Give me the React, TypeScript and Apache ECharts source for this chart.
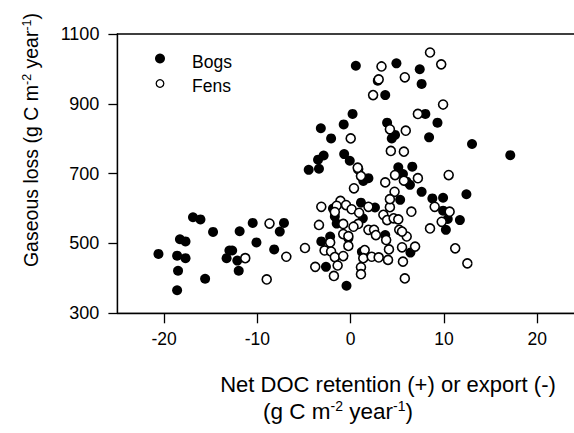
import React, { useEffect, useRef } from "react";
import * as echarts from "echarts";

const xTicks = [-20, -10, 0, 10, 20];
const yTicks = [300, 500, 700, 900, 1100];

const bogs: [number, number][] = [
  [-20.6, 470], [-18.6, 465], [-18.5, 422], [-18.6, 366], [-18.3, 512], [-17.7, 506],
  [-17.7, 458], [-16.9, 575], [-16.1, 569], [-15.6, 399], [-14.75, 533], [-13.3, 458],
  [-13.0, 480], [-12.7, 480], [-12.15, 451], [-12.0, 422], [-11.9, 535], [-10.5, 559],
  [-10.1, 503], [-8.2, 483], [-7.6, 534], [-7.15, 559],
  [-4.5, 711], [-3.4, 714], [-3.5, 740], [-2.9, 752], [-0.7, 756], [-0.1, 737],
  [-3.2, 830], [-2.1, 801], [-0.75, 841], [0.2, 871], [0.55, 1009], [4.9, 1016],
  [7.4, 999], [7.6, 957], [3.7, 925], [2.9, 966], [3.9, 846], [4.75, 811], [4.4, 801],
  [8.0, 871], [9.3, 846], [8.4, 804], [13.0, 785], [17.1, 753], [5.1, 718], [6.6, 720],
  [1.35, 679], [1.9, 687], [5.6, 699], [6.0, 677], [6.35, 668], [7.6, 648], [8.75, 629],
  [9.9, 631], [12.4, 641], [9.9, 594], [10.4, 570], [10.2, 539], [11.7, 567], [6.4, 474],
  [5.3, 625], [1.1, 617], [2.6, 603], [-1.9, 600], [-1.7, 577], [-1.5, 557], [1.3, 572],
  [-2.2, 520], [-3.15, 506], [-0.25, 515], [-2.65, 433], [-0.45, 379], [1.2, 476], [3.7, 524],
];

const fens: [number, number][] = [
  [-11.3, 458], [-8.7, 557], [-9.0, 397], [-6.9, 462], [-4.9, 487],
  [-3.15, 605], [-3.4, 553], [-3.8, 433], [-2.8, 480], [-2.2, 503], [-2.1, 477], [-1.7, 461],
  [-1.4, 437], [-1.8, 407], [-0.8, 527], [-0.8, 464], [-1.1, 622], [-1.5, 608], [-1.7, 590],
  [-0.5, 610], [-0.25, 493], [0.1, 598], [0.9, 588], [1.9, 605], [0.8, 556], [-0.8, 556],
  [0.3, 548], [-0.25, 521], [1.9, 539], [2.5, 539], [2.7, 524], [3.8, 510], [4.2, 604],
  [3.5, 582], [3.9, 567], [4.6, 572], [5.1, 569], [4.7, 648], [4.2, 627], [1.5, 481],
  [1.35, 458], [2.25, 462], [3.0, 460], [4.0, 453], [4.1, 483], [1.1, 432], [1.1, 412],
  [5.2, 539], [5.5, 489], [5.6, 448], [5.8, 400], [6.0, 520], [5.5, 534],
  [0.8, 713], [1.1, 693], [0.35, 658], [3.7, 675], [4.75, 696], [4.3, 765], [5.7, 763],
  [10.5, 696], [7.2, 687], [5.7, 680], [6.5, 591], [9.0, 605], [10.6, 591], [9.75, 562],
  [8.5, 543], [6.9, 491], [11.2, 486], [12.5, 443],
  [8.5, 1047], [9.7, 1013], [3.3, 1007], [5.8, 976], [3.0, 970], [2.4, 925], [9.9, 898],
  [7.2, 871], [4.2, 827], [5.9, 823], [0.0, 801], [0.75, 717],
];

const legendNames = ["Bogs", "Fens"];

const FONT = "'Liberation Sans', Arial, Helvetica, sans-serif";

export default function App() {
  const ref = useRef<HTMLDivElement>(null);
  useEffect(() => {
    if (!ref.current) return;
    const chart = echarts.init(ref.current, null, { renderer: "svg" });
    const richY = {
      n: { fontSize: 19.5, fontFamily: FONT, fill: "#000" },
      s: { fontSize: 12.5, fontFamily: FONT, fill: "#000", verticalAlign: "top", padding: [0, 0, 8, 0] },
    };
    const richX = {
      n: { fontSize: 22.5, fontFamily: FONT, fill: "#000" },
      s: { fontSize: 14, fontFamily: FONT, fill: "#000", verticalAlign: "top", padding: [0, 0, 10, 0] },
    };
    chart.setOption({
      animation: false,
      backgroundColor: "#fff",
      grid: {
        left: 117.4,
        top: 34,
        width: 466.6,
        height: 279.3,
        show: true,
        borderColor: "#000",
        borderWidth: 1.3,
        outerBoundsMode: "none",
        containLabel: false,
      },
      xAxis: {
        type: "value",
        min: -25,
        max: 25,
        axisLine: { show: true, onZero: false, lineStyle: { color: "#000", width: 1.3 } },
        axisTick: { show: true, inside: false, length: 10, customValues: xTicks, lineStyle: { color: "#000", width: 1.3 } },
        axisLabel: { customValues: xTicks, margin: 17, fontSize: 17.5, fontFamily: FONT, color: "#000", formatter: (v: number) => String(v) },
        splitLine: { show: false },
      },
      yAxis: {
        type: "value",
        min: 300,
        max: 1100,
        axisLine: { show: true, onZero: false, lineStyle: { color: "#000", width: 1.3 } },
        axisTick: { show: true, inside: false, length: 9, customValues: yTicks, lineStyle: { color: "#000", width: 1.3 } },
        axisLabel: { customValues: yTicks, margin: 18, fontSize: 18, fontFamily: FONT, color: "#000", formatter: (v: number) => String(v) },
        splitLine: { show: false },
      },
      series: [
        {
          name: legendNames[0],
          type: "scatter",
          data: bogs,
          symbol: "circle",
          symbolSize: 10,
          itemStyle: { color: "#000", opacity: 1 },
        },
        {
          name: legendNames[1],
          type: "scatter",
          data: fens,
          symbol: "circle",
          symbolSize: 9,
          itemStyle: { color: "#fff", borderColor: "#000", borderWidth: 1.6, opacity: 1 },
        },
      ],
      graphic: [
        { type: "circle", shape: { cx: 160, cy: 58.5, r: 5 }, style: { fill: "#000" } },
        { type: "circle", shape: { cx: 160, cy: 83.5, r: 3.8 }, style: { fill: "#fff", stroke: "#000", lineWidth: 1.3 } },
        {
          type: "text",
          x: 192,
          y: 62,
          style: { text: legendNames[0], fontSize: 17.5, fontFamily: FONT, fill: "#000", align: "left", verticalAlign: "middle" },
        },
        {
          type: "text",
          x: 192,
          y: 85.5,
          style: { text: legendNames[1], fontSize: 17.5, fontFamily: FONT, fill: "#000", align: "left", verticalAlign: "middle" },
        },
        {
          type: "text",
          x: 31,
          y: 140,
          rotation: Math.PI / 2,
          style: {
            text: "{n|Gaseous loss (g C m}{s|-2}{n| year}{s|-1}{n|)}",
            rich: richY,
            align: "center",
            verticalAlign: "middle",
          },
        },
        {
          type: "text",
          x: 388,
          y: 384,
          style: {
            text: "Net DOC retention (+) or export (-)",
            fontSize: 22,
            fontFamily: FONT,
            fill: "#000",
            align: "center",
            verticalAlign: "middle",
          },
        },
        {
          type: "text",
          x: 338,
          y: 411,
          style: {
            text: "{n|(g C m}{s|-2}{n| year}{s|-1}{n|)}",
            rich: richX,
            align: "center",
            verticalAlign: "middle",
          },
        },
      ],
    });
    return () => chart.dispose();
  }, []);
  return (
    <div
      ref={ref}
      style={{ position: "absolute", left: 0, top: 0, width: 574, height: 433, background: "#fff" }}
    />
  );
}
